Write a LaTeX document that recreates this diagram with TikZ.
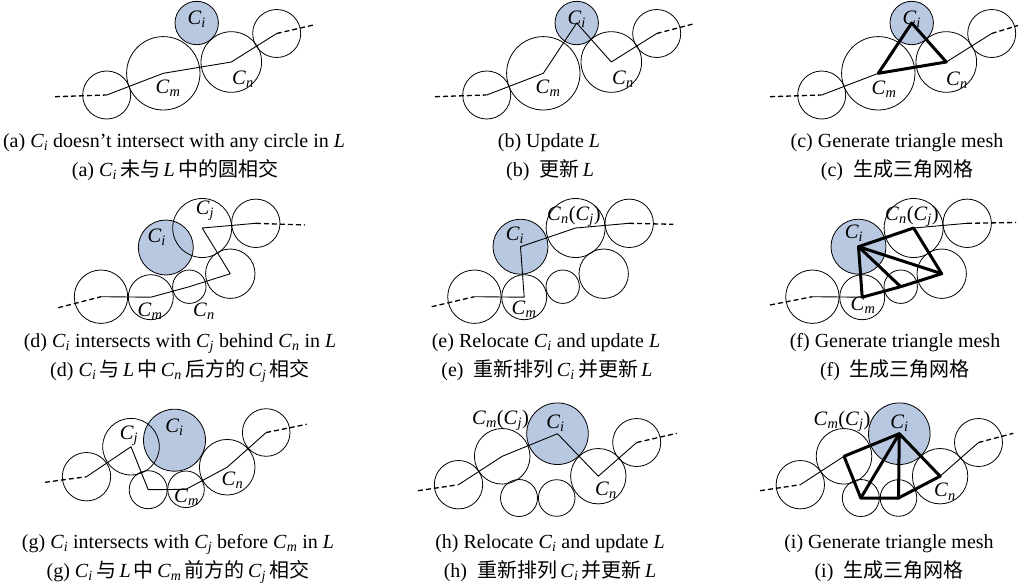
\documentclass[tikz,border=0pt]{standalone}
\usepackage{fontspec}
\setmainfont{Liberation Serif}
\newfontfamily\cjk{Noto Sans CJK SC}
\definecolor{ciblue}{RGB}{184,200,225}
\newcommand\Cs[1]{\textit{C}\textsubscript{\textit{#1}}}
\newcommand\Lt{\textit{L}}
\tikzset{
  cir/.style={circle, draw, line width=0.8pt, inner sep=0pt, minimum size=#1},
  cifill/.style={cir=#1, fill=ciblue},
  trail/.style={line width=0.9pt, line join=round},
  dashseg/.style={line width=1.3pt, dash pattern=on 5pt off 3pt},
  meshline/.style={line width=3pt, line join=round, line cap=round},
  lab/.style={inner sep=0pt, font=\fontsize{20.5}{20.5}\selectfont},
  capt/.style={anchor=base, inner sep=0pt, font=\fontsize{20}{20}\selectfont}
}
\begin{document}
\begin{tikzpicture}[x=1pt,y=-1pt]
\useasboundingbox (0,0) rectangle (1026,587);

% ---------------- (a) ----------------
\node[cifill=43.4pt] (a-i) at (196.7,23) {};
\node[cir=48pt]   (a-l1) at (106.7,95) {};
\node[cir=73.4pt] (a-m)  at (163.3,73.3) {};
\node[cir=60.6pt] (a-n)  at (231.3,62) {};
\node[cir=48pt]   (a-r)  at (276.7,33.5) {};
\coordinate (a-s) at (55,96.7);
\coordinate (a-e) at (313.3,25);
\draw[dashseg] (a-s) -- (a-l1.center);
\draw[trail] (a-l1.center) -- (a-m.center) -- (a-n.center) -- (a-r.center);
\draw[dashseg] (a-r.center) -- (a-e);
\node[lab] (a-li) at (196.7,19) {\Cs{i}};
\node[lab] (a-lm) at (168,88) {\Cs{m}};
\node[lab] (a-ln) at (243,79) {\Cs{n}};

% ---------------- (b) ----------------
\node[cifill=43.4pt] (b-i) at (576.7,23) {};
\node[cir=48pt]   (b-l1) at (486.7,95) {};
\node[cir=73.4pt] (b-m)  at (543.3,73.3) {};
\node[cir=60.6pt] (b-n)  at (611.3,62) {};
\node[cir=48pt]   (b-r)  at (656.7,33.5) {};
\coordinate (b-s) at (435,96.7);
\coordinate (b-e) at (693,24);
\draw[dashseg] (b-s) -- (b-l1.center);
\draw[trail] (b-l1.center) -- (b-m.center) -- (b-i.center) -- (b-n.center) -- (b-r.center);
\draw[dashseg] (b-r.center) -- (b-e);
\node[lab] (b-li) at (576.7,19) {\Cs{i}};
\node[lab] (b-lm) at (548,88) {\Cs{m}};
\node[lab] (b-ln) at (623,79) {\Cs{n}};

% ---------------- (c) ----------------
\node[cifill=43.4pt] (c-i) at (911.7,23) {};
\node[cir=48pt]   (c-l1) at (821.7,95) {};
\node[cir=73.4pt] (c-m)  at (878.3,73.3) {};
\node[cir=60.6pt] (c-n)  at (946.3,62) {};
\node[cir=48pt]   (c-r)  at (991.7,33.5) {};
\coordinate (c-s) at (770,96.7);
\coordinate (c-e) at (1018,25.5);
\draw[dashseg] (c-s) -- (c-l1.center);
\draw[trail] (c-l1.center) -- (c-m.center) -- (c-n.center) -- (c-r.center);
\draw[dashseg] (c-r.center) -- (c-e);
\draw[meshline] (c-i.center) -- (c-m.center) -- (c-n.center) -- cycle;
\node[lab] (c-li) at (911.7,19) {\Cs{i}};
\node[lab] (c-lm) at (884,89) {\Cs{m}};
\node[lab] (c-ln) at (957,80) {\Cs{n}};

% ---------------- (d) ----------------
\node[cifill=55pt] (d-i) at (165.8,247.5) {};
\node[cir=53.4pt] (d-l1) at (101,296.7) {};
\node[cir=45pt]   (d-m)  at (150.8,297.2) {};
\node[cir=33.4pt] (d-n)  at (189.3,286.7) {};
\node[cir=49.4pt] (d-4)  at (230.3,273.7) {};
\node[cir=59pt]   (d-j)  at (202.2,228) {};
\node[cir=48.4pt] (d-r)  at (255.8,223.3) {};
\coordinate (d-s) at (58.3,307.7);
\coordinate (d-e) at (305,225);
\draw[dashseg] (d-s) -- (d-l1.center);
\draw[trail] (d-l1.center) -- (d-m.center) -- (d-n.center) -- (d-4.center) -- (d-j.center) -- (d-r.center);
\draw[dashseg] (d-r.center) -- (d-e);
\node[lab] (d-li) at (156.7,237) {\Cs{i}};
\node[lab] (d-lj) at (205,211) {\Cs{j}};
\node[lab] (d-lm) at (150,311) {\Cs{m}};
\node[lab] (d-ln) at (204,311) {\Cs{n}};

% ---------------- (e) ----------------
\node[cifill=55pt] (e-i) at (520.5,246.7) {};
\node[cir=53.4pt] (e-l1) at (474.4,296.7) {};
\node[cir=45pt]   (e-m)  at (524.2,297.2) {};
\node[cir=33.4pt] (e-n)  at (562.7,286.7) {};
\node[cir=49.4pt] (e-4)  at (603.7,273.7) {};
\node[cir=59pt]   (e-j)  at (575.6,228) {};
\node[cir=48.4pt] (e-r)  at (629.2,223.3) {};
\coordinate (e-s) at (431.7,306.7);
\coordinate (e-e) at (673.3,224.3);
\draw[dashseg] (e-s) -- (e-l1.center);
\draw[trail] (e-l1.center) -- (e-m.center) -- (e-i.center) -- (e-j.center) -- (e-r.center);
\draw[dashseg] (e-r.center) -- (e-e);
\node[lab] (e-li) at (515,235) {\Cs{i}};
\node[lab] (e-lj) at (574,216.7) {\Cs{n}(\Cs{j})};
\node[lab] (e-lm) at (524,309) {\Cs{m}};

% ---------------- (f) ----------------
\node[cifill=55pt] (f-i) at (858.5,246.7) {};
\node[cir=53.4pt] (f-l1) at (812.4,296.7) {};
\node[cir=45pt]   (f-m)  at (862.2,297.2) {};
\node[cir=33.4pt] (f-n)  at (900.7,286.7) {};
\node[cir=49.4pt] (f-4)  at (941.7,273.7) {};
\node[cir=59pt]   (f-j)  at (913.6,228) {};
\node[cir=48.4pt] (f-r)  at (967.2,223.3) {};
\coordinate (f-s) at (770,305);
\coordinate (f-e) at (1016,222.5);
\draw[dashseg] (f-s) -- (f-l1.center);
\draw[trail] (f-l1.center) -- (f-m.center) -- (f-i.center) -- (f-j.center) -- (f-r.center);
\draw[dashseg] (f-r.center) -- (f-e);
\draw[meshline] (f-i.center) -- (f-m.center) -- (f-n.center) -- (f-4.center) -- (f-j.center) -- cycle;
\draw[meshline] (f-i.center) -- (f-n.center);
\draw[meshline] (f-i.center) -- (f-4.center);
\node[lab] (f-li) at (854,233.5) {\Cs{i}};
\node[lab] (f-lj) at (912,216.7) {\Cs{n}(\Cs{j})};
\node[lab] (f-lm) at (863,305) {\Cs{m}};

% ---------------- (g) ----------------
\node[cifill=62pt] (g-i) at (174.5,440.2) {};
\node[cir=48.4pt] (g-l1) at (86.5,476.7) {};
\node[cir=56.6pt] (g-j)  at (131,446.7) {};
\node[cir=38pt]   (g-s1) at (148.2,489.7) {};
\node[cir=36.6pt] (g-m)  at (186,489.3) {};
\node[cir=55.6pt] (g-n)  at (227.2,467.2) {};
\node[cir=47.6pt] (g-r)  at (266.2,432.5) {};
\coordinate (g-s) at (45,482.3);
\coordinate (g-e) at (306.7,424.3);
\draw[dashseg] (g-s) -- (g-l1.center);
\draw[trail] (g-l1.center) -- (g-j.center) -- (g-s1.center) -- (g-m.center) -- (g-n.center) -- (g-r.center);
\draw[dashseg] (g-r.center) -- (g-e);
\node[lab] (g-li) at (174.5,427) {\Cs{i}};
\node[lab] (g-lj) at (129,436) {\Cs{j}};
\node[lab] (g-lm) at (186.5,497.5) {\Cs{m}};
\node[lab] (g-ln) at (232.5,480) {\Cs{n}};

% ---------------- (h) ----------------
\node[cifill=61.6pt] (h-i) at (557.5,433.7) {};
\node[cir=48.4pt] (h-l1) at (458.5,484.7) {};
\node[cir=55.6pt] (h-j)  at (502.2,456.3) {};
\node[cir=37pt]   (h-s1) at (519,498) {};
\node[cir=36.6pt] (h-m)  at (556.7,498) {};
\node[cir=55.4pt] (h-n)  at (598.3,476.2) {};
\node[cir=48pt]   (h-r)  at (636.7,442.5) {};
\coordinate (h-s) at (418,490.7);
\coordinate (h-e) at (676.7,433.3);
\draw[dashseg] (h-s) -- (h-l1.center);
\draw[trail] (h-l1.center) -- (h-j.center) -- (h-i.center) -- (h-n.center) -- (h-r.center);
\draw[dashseg] (h-r.center) -- (h-e);
\node[lab] (h-lj) at (500.5,420) {\Cs{m}(\Cs{j})};
\node[lab] (h-li) at (555.5,423.3) {\Cs{i}};
\node[lab] (h-ln) at (606,490) {\Cs{n}};

% ---------------- (i) ----------------
\node[cifill=61.6pt] (i-i) at (899.3,433.7) {};
\node[cir=48.4pt] (i-l1) at (800.3,484.7) {};
\node[cir=55.6pt] (i-j)  at (844,456.3) {};
\node[cir=37pt]   (i-s1) at (860.8,498) {};
\node[cir=36.6pt] (i-m)  at (898.5,498) {};
\node[cir=55.4pt] (i-n)  at (940.1,476.2) {};
\node[cir=48pt]   (i-r)  at (978.5,442.5) {};
\coordinate (i-s) at (760,490.7);
\coordinate (i-e) at (1013.3,433.3);
\draw[dashseg] (i-s) -- (i-l1.center);
\draw[trail] (i-l1.center) -- (i-j.center) -- (i-i.center) -- (i-n.center) -- (i-r.center);
\draw[dashseg] (i-r.center) -- (i-e);
\draw[meshline] (i-j.center) -- (i-i.center) -- (i-n.center) -- (i-m.center) -- (i-s1.center) -- cycle;
\draw[meshline] (i-i.center) -- (i-s1.center);
\draw[meshline] (i-i.center) -- (i-m.center);
\node[lab] (i-lj) at (842,421.7) {\Cs{m}(\Cs{j})};
\node[lab] (i-li) at (899.5,423.3) {\Cs{i}};
\node[lab] (i-ln) at (945,491.7) {\Cs{n}};

% ---------------- captions ----------------
\node[capt] (cap-a1) at (174,147) {(a) \Cs{i} doesn’t intersect with any circle in \Lt};
\node[capt] (cap-a2) at (175,176) {(a) \Cs{i}\,{\cjk 未与}\,\Lt\,{\cjk 中的圆相交}};
\node[capt] (cap-b1) at (549,147) {(b) Update \Lt};
\node[capt] (cap-b2) at (550,176) {(b)\hspace{0.5em}{\cjk 更新}\,\Lt};
\node[capt] (cap-c1) at (897,147) {(c) Generate triangle mesh};
\node[capt] (cap-c2) at (897,176) {(c)\hspace{0.5em}{\cjk 生成三角网格}};

\node[capt] (cap-d1) at (180,347) {(d) \Cs{i} intersects with \Cs{j} behind \Cs{n} in \Lt};
\node[capt] (cap-d2) at (180,376) {(d) \Cs{i}\,{\cjk 与}\,\Lt\,{\cjk 中}\,\Cs{n}\,{\cjk 后方的}\,\Cs{j}\,{\cjk 相交}};
\node[capt] (cap-e1) at (546,347) {(e) Relocate \Cs{i} and update \Lt};
\node[capt] (cap-e2) at (547,376) {(e)\hspace{0.5em}{\cjk 重新排列}\,\Cs{i}\,{\cjk 并更新}\,\Lt};
\node[capt] (cap-f1) at (895,347) {(f) Generate triangle mesh};
\node[capt] (cap-f2) at (895,376) {(f)\hspace{0.5em}{\cjk 生成三角网格}};

\node[capt] (cap-g1) at (178,548) {(g) \Cs{i} intersects with \Cs{j} before \Cs{m} in \Lt};
\node[capt] (cap-g2) at (178,577) {(g) \Cs{i}\,{\cjk 与}\,\Lt\,{\cjk 中}\,\Cs{m}\,{\cjk 前方的}\,\Cs{j}\,{\cjk 相交}};
\node[capt] (cap-h1) at (550,548) {(h) Relocate \Cs{i} and update \Lt};
\node[capt] (cap-h2) at (550,577) {(h)\hspace{0.5em}{\cjk 重新排列}\,\Cs{i}\,{\cjk 并更新}\,\Lt};
\node[capt] (cap-i1) at (889,548) {(i) Generate triangle mesh};
\node[capt] (cap-i2) at (889,577) {(i)\hspace{0.5em}{\cjk 生成三角网格}};
\end{tikzpicture}
\end{document}
